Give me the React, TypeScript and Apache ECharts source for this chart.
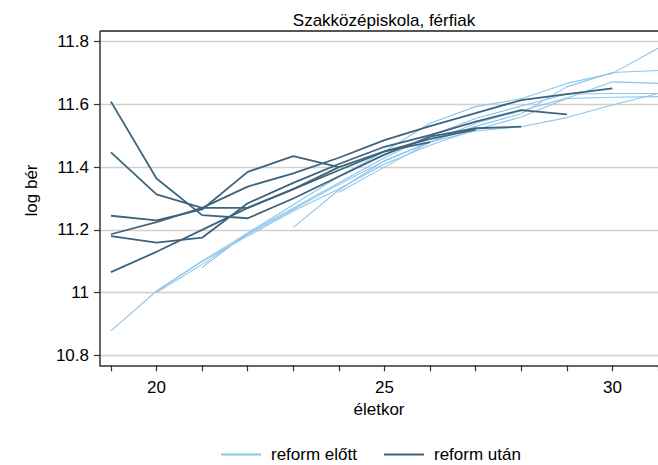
import React, { useEffect, useRef } from "react";
import * as echarts from "echarts";

// ---- data ----
const titleText = "Szakközépiskola, férfiak";
const xTitle = "életkor";
const yTitle = "log bér";
const seriesNames = ["reform előtt", "reform után"];

const xTickValues = [19, 20, 21, 22, 23, 24, 25, 26, 27, 28, 29, 30, 31];
const xLabelValues = [20, 25, 30];
const yTickLabels = ["10.8", "11", "11.2", "11.4", "11.6", "11.8"];

// cohorts before the reform: first age, then log wage by consecutive age
const beforeStartAges = [19, 20, 20, 21, 24, 23];
const beforeValues = [
  [10.878, 11.005, 11.1, 11.19, 11.27, 11.35, 11.43, 11.5, 11.555, 11.595, 11.633, 11.635, 11.635],
  [11.0, 11.09, 11.185, 11.265, 11.345, 11.42, 11.48, 11.515, 11.529, 11.558, 11.598, 11.635],
  [11.005, 11.1, 11.18, 11.26, 11.33, 11.41, 11.47, 11.52, 11.56, 11.619, 11.623, 11.625],
  [11.08, 11.19, 11.28, 11.37, 11.45, 11.54, 11.593, 11.618, 11.667, 11.699, 11.779],
  [11.32, 11.4, 11.48, 11.54, 11.58, 11.62, 11.672, 11.667],
  [11.208, 11.327, 11.42, 11.48, 11.53, 11.57, 11.656, 11.702, 11.708],
];

// cohorts after the reform
const afterStartAges = [19, 19, 19, 19, 19, 19];
const afterValues = [
  [11.609, 11.364, 11.247, 11.237, 11.3, 11.37, 11.44, 11.497, 11.524, 11.529],
  [11.447, 11.313, 11.27, 11.27, 11.33, 11.39, 11.45, 11.49, 11.52],
  [11.245, 11.23, 11.265, 11.385, 11.435, 11.4],
  [11.186, 11.225, 11.27, 11.338, 11.38, 11.43, 11.486, 11.531, 11.572, 11.614, 11.633, 11.651],
  [11.18, 11.159, 11.175, 11.285, 11.35, 11.41, 11.465, 11.502, 11.545, 11.582, 11.568],
  [11.065, 11.13, 11.2, 11.27, 11.33, 11.4, 11.45, 11.48],
];

const LIGHT = "#8cc6ec";
const DARK = "#3e647d";
const FONT = "'Liberation Sans', Arial, Helvetica, sans-serif";

function toPairs(start: number, vals: number[]) {
  return vals.map((v, i) => [start + i, v]);
}

export default function App() {
  const ref = useRef<HTMLDivElement>(null);

  useEffect(() => {
    if (!ref.current) return;
    const chart = echarts.init(ref.current, undefined, { renderer: "svg" });

    const series: any[] = [];
    beforeValues.forEach((vals, i) => {
      series.push({
        type: "line",
        name: seriesNames[0],
        data: toPairs(beforeStartAges[i], vals),
        symbol: "none",
        showSymbol: false,
        lineStyle: { color: LIGHT, width: 1.1 },
        itemStyle: { color: LIGHT },
        z: 2,
      });
    });
    afterValues.forEach((vals, i) => {
      series.push({
        type: "line",
        name: seriesNames[1],
        data: toPairs(afterStartAges[i], vals),
        symbol: "none",
        showSymbol: false,
        lineStyle: { color: DARK, width: 1.8 },
        itemStyle: { color: DARK },
        z: 3,
      });
    });

    const option: any = {
      animation: false,
      textStyle: { fontFamily: FONT },
      title: {
        text: titleText,
        left: 379,
        textAlign: "center",
        top: 7,
        textStyle: { fontSize: 17, fontWeight: "normal", color: "#000", fontFamily: FONT },
      },
      grid: { left: 100, right: 0, top: 41.7, bottom: 109.7, containLabel: false },
      legend: {
        data: [
          { name: seriesNames[0], icon: "rect", itemStyle: { color: LIGHT } },
          { name: seriesNames[1], icon: "rect", itemStyle: { color: DARK } },
        ],
        left: 216,
        top: 441,
        itemWidth: 40,
        itemHeight: 2,
        itemGap: 27,
        textStyle: { fontSize: 17, color: "#000", fontFamily: FONT, padding: [0, 0, 0, 5] },
      },
      xAxis: {
        type: "value",
        min: 18.76,
        max: 31,
        offset: 10,
        name: xTitle,
        nameLocation: "middle",
        nameGap: 36,
        nameTextStyle: { fontSize: 17, color: "#000", fontFamily: FONT },
        axisLine: { show: true, lineStyle: { color: "#333", width: 1.5 } },
        axisTick: { show: true, customValues: xTickValues, length: 6, lineStyle: { color: "#333", width: 1.2 } },
        axisLabel: { customValues: xLabelValues, fontSize: 17, color: "#000", margin: 14, fontFamily: FONT },
        splitLine: { show: false },
      },
      yAxis: {
        type: "value",
        min: 10.8,
        max: 11.8,
        interval: 0.2,
        name: yTitle,
        nameLocation: "middle",
        nameGap: 60,
        nameTextStyle: { fontSize: 17, color: "#000", fontFamily: FONT, padding: [0, 0, 0, 16] },
        axisLine: { show: false },
        axisTick: { show: true, length: 6, lineStyle: { color: "#333", width: 1.2 } },
        axisLabel: {
          fontSize: 17,
          color: "#000",
          margin: 11,
          fontFamily: FONT,
          formatter: (v: number) => {
            const idx = Math.round((v - 10.8) / 0.2);
            return yTickLabels[idx] ?? "";
          },
        },
        splitLine: { show: true, lineStyle: { color: "#d0d0d0", width: 1.3 } },
      },
      graphic: [
        {
          type: "line",
          shape: { x1: 100, y1: 31, x2: 100, y2: 366 },
          style: { stroke: "#333", lineWidth: 1.5 },
          z: 10,
        },
        {
          type: "line",
          shape: { x1: 100, y1: 31, x2: 658, y2: 31 },
          style: { stroke: "#555", lineWidth: 2 },
          z: 10,
        },
      ],
      series,
    };

    chart.setOption(option);
    return () => chart.dispose();
  }, []);

  return (
    <div
      ref={ref}
      style={{ position: "absolute", left: 0, top: 0, width: 658, height: 465 }}
    />
  );
}
